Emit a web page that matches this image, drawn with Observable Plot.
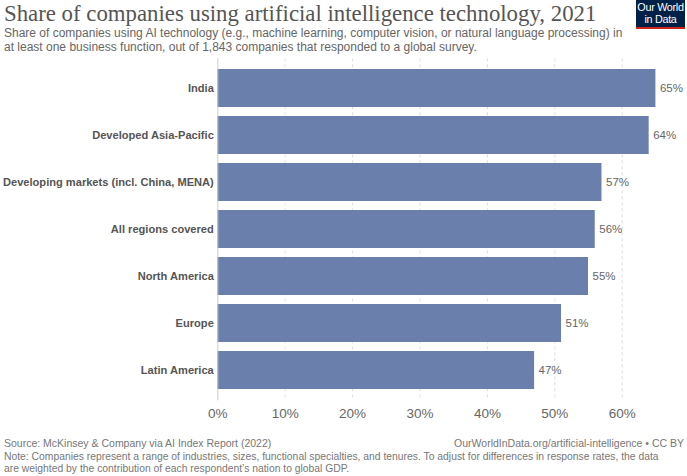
<!DOCTYPE html>
<html><head><meta charset="utf-8">
<script src="https://cdn.jsdelivr.net/npm/d3@7"></script>
<script src="https://cdn.jsdelivr.net/npm/@observablehq/plot@0.6"></script>
<style>
html,body{margin:0;padding:0;background:#fff;}
#wrap{position:relative;width:687px;height:476px;overflow:hidden;font-family:"Liberation Sans",Arial,sans-serif;}
.abs{position:absolute;white-space:nowrap;}
#title{left:4px;top:1px;font-family:"Liberation Serif","DejaVu Serif",serif;font-size:22.8px;color:#555;}
#sub{left:4px;top:25.5px;font-size:12px;color:#666;line-height:14.5px;}
#logo{left:636px;top:0;width:49px;height:29px;background:#002147;color:#fff;font-size:10.8px;line-height:11.5px;text-align:center;box-sizing:border-box;padding-top:2px;border-bottom:2.5px solid #ce261e;letter-spacing:-0.3px;}
#chart{left:0;top:56px;}
#src{left:4px;top:437px;font-size:10.5px;color:#777;}
#url{right:3px;top:437px;font-size:10.5px;color:#777;}
#note{left:4px;top:451px;font-size:10.35px;color:#777;line-height:12px;}
</style></head>
<body><div id="wrap">
<div id="title" class="abs">Share of companies using artificial intelligence technology, 2021</div>
<div id="sub" class="abs">Share of companies using AI technology (e.g., machine learning, computer vision, or natural language processing) in<br>at least one business function, out of 1,843 companies that responded to a global survey.</div>
<div id="logo" class="abs">Our World<br>in Data</div>
<div id="chart" class="abs"></div>
<div id="src" class="abs">Source: McKinsey &amp; Company via AI Index Report (2022)</div>
<div id="url" class="abs">OurWorldInData.org/artificial-intelligence • CC BY</div>
<div id="note" class="abs">Note: Companies represent a range of industries, sizes, functional specialties, and tenures. To adjust for differences in response rates, the data<br>are weighted by the contribution of each respondent’s nation to global GDP.</div>
</div>
<script>
const regions = ["India","Developed Asia-Pacific","Developing markets (incl. China, MENA)","All regions covered","North America","Europe","Latin America"];
const shares = [65,64,57,56,55,51,47];
const xTicks = [0,10,20,30,40,50,60];
const data = regions.map((r,i)=>({region:r, share:shares[i]}));
const barColor = "#6a7fac";
const plot = Plot.plot({
  width:687, height:368,
  marginLeft:217.3, marginRight:687-217.3-6.74*65, marginTop:2.3, marginBottom:23.7,
  x:{domain:[0,65], axis:null},
  y:{domain:regions, padding:0.19, axis:null},
  style:{fontFamily:"'Liberation Sans', Arial, sans-serif", background:"transparent"},
  marks:[
    Plot.ruleX(xTicks.slice(1),{stroke:"#ddd", strokeDasharray:"3,3", strokeWidth:1}),
    Plot.barX(data,{x:"share", y:"region", fill:barColor}),
    Plot.ruleX([0],{stroke:"#ccc", strokeWidth:1}),
    Plot.text(data,{x:"share", y:"region", text:d=>d.share+"%", textAnchor:"start", dx:4, fill:"#666", fontSize:11.5}),
    Plot.axisY({tickSize:0, tickPadding:4, fontSize:11.1, fontWeight:"bold", fill:"#555", label:null}),
    Plot.text(xTicks,{x:d=>d, frameAnchor:"bottom", dy:17.5, text:d=>d+"%", textAnchor:d=>d===0?"start":"middle", fill:"#666", fontSize:13.5})
  ]
});
document.getElementById("chart").appendChild(plot);
</script>
</body></html>
